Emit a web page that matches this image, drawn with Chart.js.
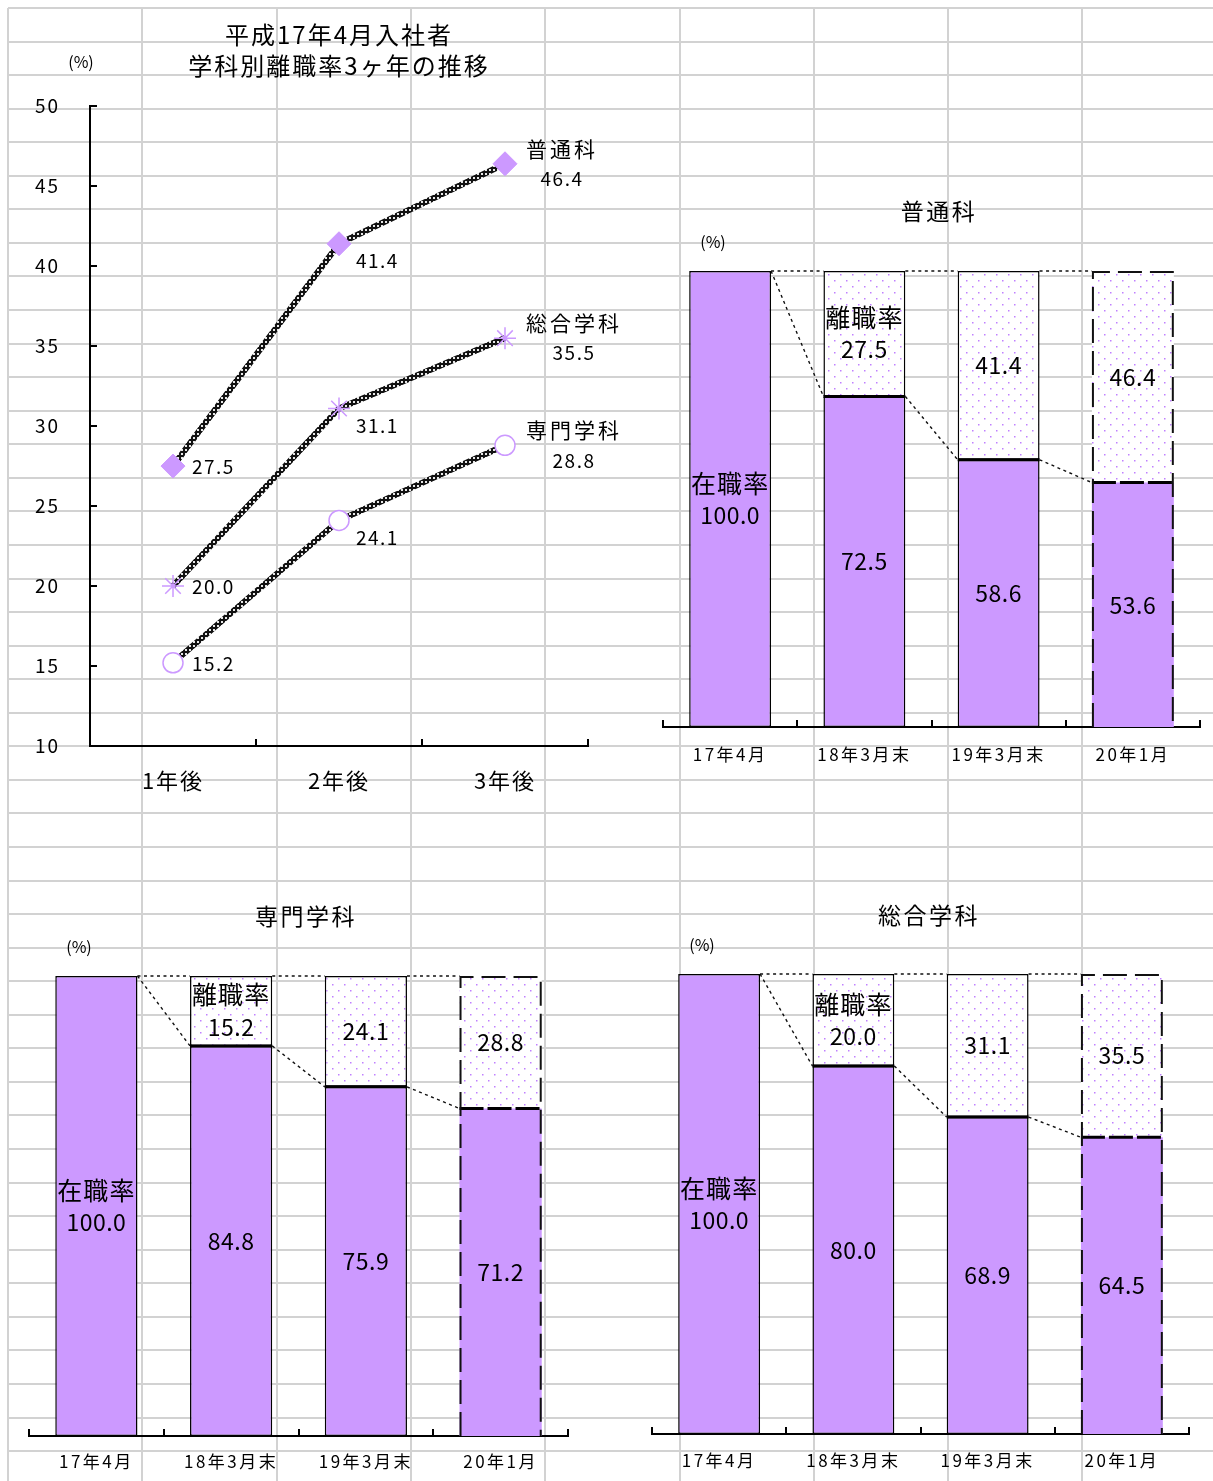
<!DOCTYPE html>
<html><head><meta charset="utf-8">
<script src="https://cdn.jsdelivr.net/npm/chart.js@4.4.1/dist/chart.umd.min.js"></script>
<style>
html,body{margin:0;padding:0;background:#fff;overflow:hidden;width:1213px;height:1481px;position:relative;}
canvas{position:absolute;}
</style></head><body>
<canvas id="bg" width="1213" height="1481" style="left:0;top:0"></canvas>
<canvas id="lineChart" width="660" height="830" style="left:0;top:0"></canvas>
<canvas id="barGeneral" width="580" height="620" style="left:640px;top:170px"></canvas>
<canvas id="barVocational" width="600" height="600" style="left:0;top:880px"></canvas>
<canvas id="barIntegrated" width="590" height="600" style="left:630px;top:880px"></canvas>
<script>
// ---------- data ----------
const periods = ['1年後', '2年後', '3年後'];
const general = [27.5, 41.4, 46.4];      // 普通科
const integrated = [20.0, 31.1, 35.5];   // 総合学科
const vocational = [15.2, 24.1, 28.8];   // 専門学科

const barCategories = ['17年4月', '18年3月末', '19年3月末', '20年1月'];
const generalStay = [100.0, 72.5, 58.6, 53.6];
const generalLeave = [null, 27.5, 41.4, 46.4];
const vocationalStay = [100.0, 84.8, 75.9, 71.2];
const vocationalLeave = [null, 15.2, 24.1, 28.8];
const integratedStay = [100.0, 80.0, 68.9, 64.5];
const integratedLeave = [null, 20.0, 31.1, 35.5];

const FONT = '"Noto Sans CJK JP", "Noto Sans", sans-serif';
const LAV = '#CC99FF';
Chart.defaults.font.family = FONT;
Chart.defaults.color = '#000';

// ---------- spreadsheet grid background ----------
(function () {
  const g = document.getElementById('bg').getContext('2d');
  g.strokeStyle = '#d2d2d2'; g.lineWidth = 2;
  for (let k = 0; ; k++) {
    const y = Math.round(8 + k * 33.56); if (y > 1481) break;
    g.beginPath(); g.moveTo(8, y); g.lineTo(1213, y); g.stroke();
  }
  for (let k = 0; ; k++) {
    const x = Math.round(8 + k * 134.3); if (x > 1213) break;
    g.beginPath(); g.moveTo(x, 8); g.lineTo(x, 1481); g.stroke();
  }
})();

// ---------- patterns ----------
function chainPattern() {
  const c = document.createElement('canvas'); c.width = 4; c.height = 4;
  const x = c.getContext('2d');
  x.fillStyle = '#111'; x.fillRect(0, 0, 4, 4);
  x.fillStyle = '#e8e8e8'; x.fillRect(1, 1, 2, 2);
  return x.createPattern(c, 'repeat');
}
function dotPattern() {
  const c = document.createElement('canvas'); c.width = 12; c.height = 12;
  const x = c.getContext('2d');
  x.fillStyle = '#ffffff'; x.fillRect(0, 0, 12, 12);
  x.fillStyle = '#c080ff';
  x.fillRect(2, 2, 1.5, 1.5); x.fillRect(8, 8, 1.5, 1.5);
  return x.createPattern(c, 'repeat');
}

// letter spacing for all text drawn by a chart
const spacing = {
  id: 'spacing',
  beforeDraw(chart, args, opts) { chart.ctx.letterSpacing = (opts.px || 0) + 'px'; }
};

// ---------- line chart ----------
const lineLabels = {
  id: 'lineLabels',
  afterDatasetsDraw(chart) {
    const ctx = chart.ctx; ctx.save();
    ctx.fillStyle = '#000'; ctx.textBaseline = 'middle';
    chart.data.datasets.forEach((ds, di) => {
      const meta = chart.getDatasetMeta(di);
      meta.data.forEach((pt, i) => {
        const txt = ds.data[i].toFixed(1);
        ctx.letterSpacing = '1.5px';
        ctx.font = '19px ' + FONT;
        if (i === 0) { ctx.textAlign = 'left'; ctx.fillText(txt, pt.x + 19, pt.y + 1); }
        else if (i === 1) { ctx.textAlign = 'left'; ctx.fillText(txt, pt.x + 17, pt.y + 17); }
        else {
          ctx.letterSpacing = '3px';
          ctx.font = '21px ' + FONT;
          const w = ctx.measureText(ds.label).width;
          const cx = pt.x + 21 + w / 2;
          ctx.textAlign = 'center';
          ctx.fillText(ds.label, cx, pt.y - 15);
          ctx.letterSpacing = '1.5px';
          ctx.font = '19px ' + FONT;
          ctx.fillText(txt, cx, pt.y + 15);
        }
      });
    });
    ctx.letterSpacing = '0px';
    ctx.textAlign = 'center'; ctx.font = '16px ' + FONT;
    ctx.fillText('(%)', chart.chartArea.left - 9, chart.chartArea.top - 44);
    ctx.restore();
  }
};

const chain = chainPattern();
new Chart(document.getElementById('lineChart'), {
  type: 'line',
  data: {
    labels: periods,
    datasets: [
      { label: '普通科', data: general, borderColor: chain, borderWidth: 6,
        pointStyle: 'rectRot', pointRadius: 12, pointBackgroundColor: LAV, pointBorderColor: LAV, pointBorderWidth: 1 },
      { label: '総合学科', data: integrated, borderColor: chain, borderWidth: 6,
        pointStyle: 'star', pointRadius: 11, pointBackgroundColor: '#fff', pointBorderColor: LAV, pointBorderWidth: 1.5 },
      { label: '専門学科', data: vocational, borderColor: chain, borderWidth: 6,
        pointStyle: 'circle', pointRadius: 10, pointBackgroundColor: '#fff', pointBorderColor: LAV, pointBorderWidth: 1.5 }
    ]
  },
  options: {
    responsive: false, animation: false,
    layout: { padding: { left: 0, right: 72, top: 0, bottom: 0 } },
    plugins: {
      legend: { display: false }, tooltip: { enabled: false },
      spacing: { px: 2 },
      title: { display: true, fullSize: false, text: ['平成17年4月入社者', '学科別離職率3ヶ年の推移'],
        font: { size: 24, weight: 'normal', lineHeight: 1.3 }, color: '#000', padding: { top: 19.5, bottom: 24.3 } }
    },
    scales: {
      x: { type: 'category', offset: true,
        grid: { offset: true, drawOnChartArea: false, color: '#000', lineWidth: 2, tickLength: -7 },
        border: { color: '#000', width: 2 },
        ticks: { font: { size: 22 }, color: '#000', padding: 28 },
        afterFit(s) { s.height = 84; } },
      y: { min: 10, max: 50,
        grid: { drawOnChartArea: false, color: '#000', lineWidth: 2, tickLength: -7 },
        border: { color: '#000', width: 2 },
        ticks: { stepSize: 5, font: { size: 19 }, color: '#000', padding: 37 },
        afterFit(s) { s.width = 90; } }
    }
  },
  plugins: [spacing, lineLabels]
});

// ---------- bar charts ----------
const barDecor = {
  id: 'barDecor',
  afterDatasetsDraw(chart) {
    const ctx = chart.ctx; ctx.save();
    const m0 = chart.getDatasetMeta(0);
    const ys = chart.scales.y;
    const stay = chart.data.datasets[0].data, leave = chart.data.datasets[1].data;
    const n = stay.length;
    // series lines
    ctx.strokeStyle = '#111'; ctx.lineWidth = 1.4; ctx.setLineDash([3, 3.5]);
    for (let i = 0; i < n - 1; i++) {
      const a = m0.data[i], b = m0.data[i + 1];
      const ra = a.x + a.width / 2, lb = b.x - b.width / 2;
      ctx.beginPath(); ctx.moveTo(ra, a.y); ctx.lineTo(lb, b.y); ctx.stroke();
      const ta = ys.getPixelForValue(stay[i] + (leave[i] || 0));
      const tb = ys.getPixelForValue(stay[i + 1] + (leave[i + 1] || 0));
      ctx.beginPath(); ctx.moveTo(ra, ta); ctx.lineTo(lb, tb); ctx.stroke();
    }
    // boundary between retained and left segments
    ctx.strokeStyle = '#000'; ctx.lineWidth = 3;
    for (let i = 0; i < n; i++) {
      if (leave[i] == null) continue;
      const el = m0.data[i];
      ctx.setLineDash(i === n - 1 ? [24, 4] : []);
      ctx.beginPath(); ctx.moveTo(el.x - el.width / 2, el.y); ctx.lineTo(el.x + el.width / 2, el.y); ctx.stroke();
    }
    // dashed outline of the last bar
    const last = m0.data[n - 1];
    const topY = ys.getPixelForValue(stay[n - 1] + (leave[n - 1] || 0));
    const l = last.x - last.width / 2 + 1, r = last.x + last.width / 2 - 1;
    ctx.setLineDash([24, 8]); ctx.lineWidth = 2; ctx.strokeStyle = '#111';
    ctx.beginPath(); ctx.moveTo(l, last.base); ctx.lineTo(l, topY + 1); ctx.lineTo(r, topY + 1); ctx.lineTo(r, last.base); ctx.stroke();
    ctx.setLineDash([]);
    // value labels
    ctx.fillStyle = '#000'; ctx.textAlign = 'center'; ctx.textBaseline = 'middle';
    chart.data.datasets.forEach((ds, di) => {
      const meta = chart.getDatasetMeta(di);
      meta.data.forEach((el, i) => {
        const v = ds.data[i];
        if (v == null) return;
        const cy = (el.y + el.base) / 2;
        const txt = v.toFixed(1);
        const withName = (di === 0 && i === 0) || (di === 1 && i === 1);
        ctx.letterSpacing = '0.5px';
        ctx.font = '23px ' + FONT;
        if (withName) {
          ctx.fillText(txt, el.x, cy + 16);
          ctx.letterSpacing = '1px';
          ctx.font = '25px ' + FONT;
          ctx.fillText(ds.label, el.x, cy - 16);
        }
        else ctx.fillText(txt, el.x, cy);
      });
    });
    ctx.letterSpacing = '0px';
    ctx.font = '16px ' + FONT;
    ctx.fillText('(%)', chart.chartArea.left + 50, chart.chartArea.top - 29);
    ctx.restore();
  }
};

const dots = dotPattern();
function bw(ctx) {
  if (ctx.dataIndex === 3) return { top: 0, left: 0, right: 0, bottom: 0 };
  return 1.5;
}
function makeBar(id, title, stay, leave, cfg) {
  new Chart(document.getElementById(id), {
    type: 'bar',
    data: {
      labels: barCategories,
      datasets: [
        { label: '在職率', data: stay, backgroundColor: LAV, borderColor: '#000',
          borderWidth: bw, borderSkipped: false, barPercentage: 0.61, categoryPercentage: 1 },
        { label: '離職率', data: leave, backgroundColor: dots, borderColor: '#000',
          borderWidth: bw, borderSkipped: false, barPercentage: 0.61, categoryPercentage: 1 }
      ]
    },
    options: {
      responsive: false, animation: false,
      layout: { padding: { left: cfg.padL, right: cfg.padR, top: 0, bottom: 0 } },
      plugins: {
        legend: { display: false }, tooltip: { enabled: false },
        spacing: { px: 2.5 },
        title: { display: true, text: title, font: { size: 23, weight: 'normal', lineHeight: 1.2 }, color: '#000',
          padding: { top: cfg.tTop, bottom: cfg.tBot } }
      },
      scales: {
        x: { stacked: true,
          grid: { offset: true, drawOnChartArea: false, color: '#000', lineWidth: 2, tickLength: -7 },
          border: { color: '#000', width: 2 },
          ticks: { font: { size: 17 }, color: '#000', padding: cfg.xPad },
          afterFit(s) { s.height = cfg.xH; } },
        y: { stacked: true, position: 'right', min: 0, max: 100,
          grid: { display: false }, border: { display: false }, ticks: { display: false },
          afterFit(s) { s.width = cfg.yW; } }
      }
    },
    plugins: [spacing, barDecor]
  });
}

makeBar('barGeneral', '普通科', generalStay, generalLeave,
  { padL: 23, padR: 5, yW: 15, tTop: 27, tBot: 46.4, xH: 63, xPad: 24.8 });
makeBar('barVocational', '専門学科', vocationalStay, vocationalLeave,
  { padL: 29, padR: 17, yW: 15, tTop: 22.2, tBot: 46.2, xH: 44, xPad: 22.8 });
makeBar('barIntegrated', '総合学科', integratedStay, integratedLeave,
  { padL: 22, padR: 14, yW: 17, tTop: 21.2, tBot: 45.2, xH: 46, xPad: 23.8 });
</script>
</body></html>
